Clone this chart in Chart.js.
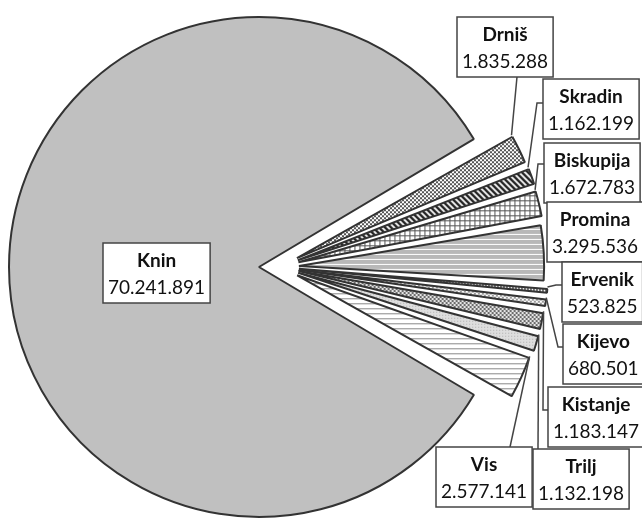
<!DOCTYPE html>
<html>
<head>
<meta charset="utf-8">
<script src="https://cdn.jsdelivr.net/npm/chart.js@4.4.0/dist/chart.umd.min.js"></script>
<style>
  html, body { margin: 0; padding: 0; background: #fff; }
  #wrap { width: 642px; height: 519px; position: relative; }
</style>
</head>
<body>
<div id="wrap"><canvas id="pie"></canvas></div>
<script>
// 🔹 DATA
const towns = ["Knin", "Drniš", "Skradin", "Biskupija", "Promina", "Ervenik", "Kijevo", "Kistanje", "Trilj", "Vis"];
const amounts = [70241891, 1835288, 1162199, 1672783, 3295536, 523825, 680501, 1183147, 1132198, 2577141];

// 🔹 LABEL BOXES (top-left) + leader start / elbow points
const labelBoxes = [
    { x: 103, y: 243 },
    { x: 457, y: 17,  from: [517, 77] },
    { x: 543, y: 79,  from: [543, 103], elbow: [537, 103] },
    { x: 544, y: 143, from: [544, 164], elbow: [538, 164] },
    { x: 547, y: 202 },
    { x: 562, y: 262, from: [562, 285], elbow: [556, 285] },
    { x: 563, y: 324, from: [563, 347], elbow: [558, 347] },
    { x: 548, y: 387, from: [548, 410], elbow: [543, 410] },
    { x: 533, y: 449, from: [538, 449] },
    { x: 436, y: 447, from: [510, 447] }
];

function fmt(n) {
    return String(n).replace(/\B(?=(\d{3})+(?!\d))/g, ".");
}

// 🔥 PATTERNS
const canvas = document.getElementById("pie");
const ctx = canvas.getContext("2d");

function tile(w, h, paint) {
    const c = document.createElement("canvas");
    c.width = w;
    c.height = h;
    paint(c.getContext("2d"));
    return ctx.createPattern(c, "repeat");
}

function checker(bg, fg) {
    return tile(4, 4, g => {
        g.fillStyle = bg; g.fillRect(0, 0, 4, 4);
        g.fillStyle = fg; g.fillRect(0, 0, 2, 2); g.fillRect(2, 2, 2, 2);
    });
}

const fills = [
    "#c0c0c0",
    checker("#ffffff", "#555"),
    tile(6, 6, g => {
        g.fillStyle = "#fff"; g.fillRect(0, 0, 6, 6);
        g.strokeStyle = "#222"; g.lineWidth = 2.4;
        g.beginPath();
        g.moveTo(-1, -1); g.lineTo(7, 7);
        g.moveTo(-1, 5); g.lineTo(1, 7);
        g.moveTo(5, -1); g.lineTo(7, 1);
        g.stroke();
    }),
    tile(5, 5, g => {
        g.fillStyle = "#fff"; g.fillRect(0, 0, 5, 5);
        g.fillStyle = "#555"; g.fillRect(0, 0, 5, 1); g.fillRect(0, 0, 1, 5);
    }),
    tile(1, 5, g => {
        g.fillStyle = "#b8b8b8"; g.fillRect(0, 0, 1, 5);
        g.fillStyle = "#fff"; g.fillRect(0, 0, 1, 1);
    }),
    tile(3, 1, g => {
        g.fillStyle = "#777"; g.fillRect(0, 0, 3, 1);
        g.fillStyle = "#fff"; g.fillRect(2, 0, 1, 1);
    }),
    checker("#ffffff", "#9a9a9a"),
    checker("#e8e8e8", "#6a6a6a"),
    tile(3, 3, g => {
        g.fillStyle = "#dedede"; g.fillRect(0, 0, 3, 3);
        g.fillStyle = "#b0b0b0"; g.fillRect(0, 0, 1, 1);
    }),
    tile(1, 5, g => {
        g.fillStyle = "#fff"; g.fillRect(0, 0, 1, 5);
        g.fillStyle = "#888"; g.fillRect(0, 0, 1, 1);
    })
];

// 🔥 SLICE GEOMETRY (as drawn by the arc element)
function sliceShape(el) {
    const off = (el.options.offset || 0) / 4;
    const circ = el.endAngle - el.startAngle;
    const mid = (el.startAngle + el.endAngle) / 2;
    return {
        cx: el.x + Math.cos(mid) * off,
        cy: el.y + Math.sin(mid) * off,
        r: el.outerRadius + off * (1 - Math.sin(Math.min(Math.PI, circ))),
        start: el.startAngle,
        end: el.endAngle
    };
}

// 🔥 LABELS PLUGIN
const boxLabels = {
    id: "boxLabels",
    afterDatasetsDraw(chart) {
        const c = chart.ctx;
        const arcs = chart.getDatasetMeta(0).data;
        const nameFont = "bold 19px Lato";
        const valFont = "19px Lato";

        towns.forEach((name, i) => {
            const b = labelBoxes[i];
            const value = fmt(amounts[i]);

            c.font = nameFont;
            const w1 = c.measureText(name).width;
            c.font = valFont;
            const w2 = c.measureText(value).width;
            const w = Math.max(w1, w2) + 10;
            const h = 60;

            // leader line
            if (b.from) {
                const s = sliceShape(arcs[i]);
                const p = b.elbow || b.from;
                let a = Math.atan2(p[1] - s.cy, p[0] - s.cx);
                const pad = 0.004;
                a = Math.min(Math.max(a, s.start + pad), s.end - pad);
                const tx = s.cx + Math.cos(a) * s.r;
                const ty = s.cy + Math.sin(a) * s.r;

                c.save();
                c.strokeStyle = "#444";
                c.lineWidth = 1.5;
                c.beginPath();
                c.moveTo(b.from[0], b.from[1]);
                if (b.elbow) c.lineTo(b.elbow[0], b.elbow[1]);
                c.lineTo(tx, ty);
                c.stroke();
                c.restore();
            }

            // box
            c.save();
            c.fillStyle = "#fff";
            c.strokeStyle = "#444";
            c.lineWidth = 1.5;
            c.fillRect(b.x, b.y, w, h);
            c.strokeRect(b.x, b.y, w, h);

            c.fillStyle = "#111";
            c.textAlign = "center";
            c.textBaseline = "middle";
            c.font = nameFont;
            c.fillText(name, b.x + w / 2, b.y + 18);
            c.font = valFont;
            c.fillText(value, b.x + w / 2, b.y + 45);
            c.restore();
        });
    }
};

// 🔁 RUN
new Chart(canvas, {
    type: "pie",
    data: {
        labels: towns,
        datasets: [{
            data: amounts,
            backgroundColor: fills,
            borderColor: "#333",
            borderWidth: 2,
            offset: 80,
            clip: false
        }]
    },
    options: {
        responsive: true,
        maintainAspectRatio: false,
        animation: false,
        rotation: 120,
        radius: 230,
        layout: { padding: { left: 0, right: 84, top: 15, bottom: 0 } },
        plugins: {
            legend: { display: false },
            tooltip: { enabled: false }
        }
    },
    plugins: [boxLabels]
});
</script>
</body>
</html>
